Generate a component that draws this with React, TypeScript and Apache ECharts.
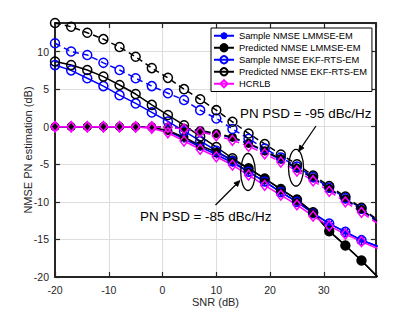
import React, { useEffect, useRef } from 'react';
import * as echarts from 'echarts';

// SNR grid (dB)
const snr = [-20, -17, -14, -11, -8, -5, -2, 1, 4, 7, 10, 13, 16, 19, 22, 25, 28, 31, 34, 37, 40];

// PN PSD = -85 dBc/Hz (solid lines)
const sampleLmmse85 = [0, 0, 0, 0, 0, 0, -0.15, -0.6, -1.6, -2.7, -3.7, -4.8, -6.0, -7.3, -8.7, -10.0, -11.5, -12.9, -14.0, -15.1, -15.9];
const predLmmse85 = [0, 0, 0, 0, 0, 0, -0.1, -0.5, -1.4, -2.5, -3.4, -4.4, -5.55, -6.9, -8.3, -9.7, -11.4, -13.9, -15.8, -17.8, -20.0];
const sampleEkf85 = [8.2, 7.5, 6.45, 5.4, 4.2, 3.1, 1.9, 0.7, -0.6, -1.9, -3.2, -4.6, -6.0, -7.3, -8.7, -10.0, -11.5, -12.9, -14.0, -15.1, -15.9];
const predEkf85 = [8.67, 8.2, 7.55, 6.67, 5.55, 4.35, 2.9, 1.55, 0.2, -1.3, -2.7, -4.2, -5.55, -6.9, -8.3, -9.7, -11.4, -13.9, -15.8, -17.8, -20.0];
const hcrlb85 = [0, 0, 0, 0, 0, -0.05, -0.2, -0.8, -1.9, -3.0, -4.0, -5.1, -6.45, -7.8, -9.1, -10.4, -11.9, -13.2, -14.3, -15.3, -16.2];

// PN PSD = -95 dBc/Hz (dashed lines)
const sampleLmmse95 = [0, 0, 0, 0, 0, 0, 0, -0.05, -0.25, -0.6, -1.0, -1.5, -2.3, -3.3, -4.4, -5.6, -6.9, -8.3, -9.7, -11.1, -12.7];
const predLmmse95 = [0, 0, 0, 0, 0, 0, 0, -0.05, -0.2, -0.5, -0.9, -1.4, -2.2, -3.2, -4.3, -5.5, -6.8, -8.2, -9.6, -11.0, -12.6];
const sampleEkf95 = [11.1, 10.0, 9.55, 8.5, 7.55, 6.45, 5.4, 4.45, 3.55, 2.2, 1.1, -0.3, -1.6, -2.9, -4.1, -5.3, -6.7, -8.1, -9.5, -10.9, -12.5];
const predEkf95 = [13.8, 13.3, 12.5, 11.65, 10.6, 9.3, 7.8, 6.5, 5.0, 3.65, 2.2, 0.65, -0.9, -2.3, -3.7, -5.0, -6.5, -7.9, -9.3, -10.8, -12.4];
const hcrlb95 = [0, 0, 0, 0, 0, 0, 0, -0.1, -0.3, -0.7, -1.2, -1.8, -2.6, -3.6, -4.7, -5.9, -7.2, -8.6, -10.0, -11.4, -12.9];

const legendNames = [
  'Sample NMSE LMMSE-EM',
  'Predicted NMSE LMMSE-EM',
  'Sample NMSE EKF-RTS-EM',
  'Predicted NMSE EKF-RTS-EM',
  'HCRLB',
];

const xAxisTitle = 'SNR (dB)';
const yAxisTitle = 'NMSE PN estimation (dB)';
const annotation95 = 'PN PSD = -95 dBc/Hz';
const annotation85 = 'PN PSD = -85 dBc/Hz';

const FONT = '"Liberation Sans", Arial, Helvetica, sans-serif';
const AXIS_COLOR = '#262626';
const BLUE = '#0000ff';
const BLACK = '#000000';
const MAGENTA = '#ff00ff';
const ASTERISK = 'path://M5,0L5,10M0,5L10,5M1.5,1.5L8.5,8.5M1.5,8.5L8.5,1.5';

function makeSeries(
  name: string,
  values: number[],
  color: string,
  symbol: string,
  size: number | number[],
  fill: string,
  dashed: boolean,
) {
  return {
    type: 'line',
    name,
    data: snr.map((x, i) => [x, values[i]]),
    symbol,
    symbolSize: size,
    showAllSymbol: true,
    clip: true,
    lineStyle: { color, width: 1.5, type: dashed ? [6, 4] : 'solid' },
    itemStyle: { color: fill, borderColor: color, borderWidth: 1.5 },
    emphasis: { disabled: true },
  };
}

function arrow(x1: number, y1: number, x2: number, y2: number) {
  const dx = x2 - x1;
  const dy = y2 - y1;
  const len = Math.sqrt(dx * dx + dy * dy);
  const ux = dx / len;
  const uy = dy / len;
  const hl = 6;
  const hw = 2.6;
  const bx = x2 - ux * hl;
  const by = y2 - uy * hl;
  return [
    {
      type: 'line',
      shape: { x1, y1, x2: bx, y2: by },
      style: { stroke: '#000', lineWidth: 1.2 },
      z: 100,
    },
    {
      type: 'polygon',
      shape: {
        points: [
          [x2, y2],
          [bx - uy * hw, by + ux * hw],
          [bx + uy * hw, by - ux * hw],
        ],
      },
      style: { fill: '#000', stroke: '#000', lineWidth: 0.8 },
      z: 100,
    },
  ];
}

export default function App() {
  const ref = useRef<HTMLDivElement>(null);

  useEffect(() => {
    if (!ref.current) return;
    const chart = echarts.init(ref.current, undefined, { renderer: 'svg' });

    const series = [
      makeSeries(legendNames[0], sampleLmmse85, BLUE, ASTERISK, 8, 'transparent', false),
      makeSeries(legendNames[0], sampleLmmse95, BLUE, ASTERISK, 8, 'transparent', true),
      makeSeries(legendNames[1], predLmmse85, BLACK, 'circle', 7.5, BLACK, false),
      makeSeries(legendNames[1], predLmmse95, BLACK, 'circle', 7.5, BLACK, true),
      makeSeries(legendNames[2], sampleEkf85, BLUE, 'circle', 9, 'transparent', false),
      makeSeries(legendNames[2], sampleEkf95, BLUE, 'circle', 9, 'transparent', true),
      makeSeries(legendNames[3], predEkf85, BLACK, 'circle', 9, 'transparent', false),
      makeSeries(legendNames[3], predEkf95, BLACK, 'circle', 9, 'transparent', true),
      makeSeries(legendNames[4], hcrlb85, MAGENTA, 'diamond', [8, 10], 'transparent', false),
      makeSeries(legendNames[4], hcrlb95, MAGENTA, 'diamond', [8, 10], 'transparent', true),
    ];

    const tickStyle = { inside: true, length: 5, lineStyle: { color: AXIS_COLOR, width: 1.2 } };
    const lineStyleAxis = { show: true, onZero: false, lineStyle: { color: AXIS_COLOR, width: 2 } };

    chart.setOption({
      animation: false,
      backgroundColor: '#ffffff',
      grid: { left: 55, right: 39, top: 23, bottom: 35, containLabel: false },
      xAxis: [
        {
          type: 'value',
          min: -20,
          max: 39.7,
          interval: 10,
          position: 'bottom',
          name: xAxisTitle,
          nameLocation: 'middle',
          nameGap: 19,
          nameMoveOverlap: false,
          nameTextStyle: { fontFamily: FONT, fontSize: 11, color: AXIS_COLOR },
          axisLine: lineStyleAxis,
          axisTick: tickStyle,
          axisLabel: {
            fontFamily: FONT,
            fontSize: 10.5,
            color: AXIS_COLOR,
            margin: 7,
            formatter: (v: number) => (v % 10 === 0 ? String(v) : ''),
          },
          splitLine: { show: true, lineStyle: { color: '#dedede', width: 1 } },
        },
        {
          type: 'value',
          min: -20,
          max: 39.7,
          interval: 10,
          position: 'top',
          axisLine: lineStyleAxis,
          axisTick: tickStyle,
          axisLabel: { show: false },
          splitLine: { show: false },
        },
      ],
      yAxis: [
        {
          type: 'value',
          min: -20,
          max: 13.8,
          interval: 5,
          position: 'left',
          name: yAxisTitle,
          nameLocation: 'middle',
          nameGap: 22,
          nameMoveOverlap: false,
          nameTextStyle: { fontFamily: FONT, fontSize: 11, color: AXIS_COLOR },
          axisLine: lineStyleAxis,
          axisTick: tickStyle,
          axisLabel: {
            fontFamily: FONT,
            fontSize: 10.5,
            color: AXIS_COLOR,
            margin: 6,
            formatter: (v: number) => (v % 5 === 0 ? String(v) : ''),
          },
          splitLine: { show: true, lineStyle: { color: '#dedede', width: 1 } },
        },
        {
          type: 'value',
          min: -20,
          max: 13.8,
          interval: 5,
          position: 'right',
          axisLine: lineStyleAxis,
          axisTick: tickStyle,
          axisLabel: { show: false },
          splitLine: { show: false },
        },
      ],
      legend: {
        data: legendNames,
        orient: 'vertical',
        left: 211,
        top: 28,
        padding: [2, 5, 2, 2],
        itemWidth: 20,
        itemHeight: 9,
        itemGap: 0.5,
        backgroundColor: '#ffffff',
        borderColor: '#000000',
        borderWidth: 1,
        selectedMode: false,
        textStyle: { fontFamily: FONT, fontSize: 9.3, color: '#000', lineHeight: 11.5 },
        z: 50,
      },
      series,
      graphic: [
        {
          type: 'text',
          left: 240,
          top: 107,
          style: { text: annotation95, fontFamily: FONT, fontSize: 13.4, fill: '#000' },
          z: 100,
        },
        {
          type: 'text',
          left: 140,
          top: 210,
          style: { text: annotation85, fontFamily: FONT, fontSize: 13.4, fill: '#000' },
          z: 100,
        },
        {
          type: 'ellipse',
          shape: { cx: 248, cy: 172, rx: 7.3, ry: 18.5 },
          style: { fill: 'none', stroke: '#000', lineWidth: 1.3 },
          z: 100,
        },
        {
          type: 'ellipse',
          shape: { cx: 296, cy: 167.7, rx: 7.5, ry: 18.3 },
          style: { fill: 'none', stroke: '#000', lineWidth: 1.3 },
          z: 100,
        },
        ...arrow(316, 126, 298.5, 151.5),
        ...arrow(215.5, 205, 240, 180.5),
      ],
    });

    return () => chart.dispose();
  }, []);

  return (
    <div
      ref={ref}
      style={{ position: 'fixed', left: 0, top: 0, width: 415, height: 312, background: '#fff' }}
    />
  );
}
